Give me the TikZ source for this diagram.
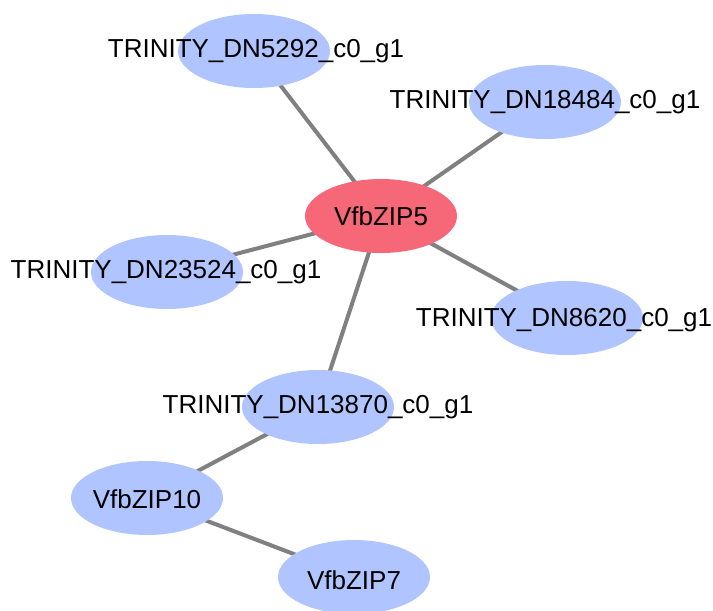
\documentclass[tikz,border=0pt]{standalone}
\usepackage{fontspec}
\setmainfont{Liberation Sans}
\usetikzlibrary{shapes.geometric,backgrounds}
\definecolor{nodeblue}{RGB}{176,196,255}
\definecolor{nodered}{RGB}{246,104,120}
\definecolor{edgegray}{RGB}{128,128,128}
\tikzset{
  gene/.style={ellipse, fill=nodeblue, draw=none, minimum width=152pt, minimum height=74pt, inner sep=0pt},
  hub/.style={gene, fill=nodered},
  lbl/.style={font=\fontsize{26}{30}\selectfont, text=black},
  link/.style={draw=edgegray, line width=4pt}
}
\begin{document}
\begin{tikzpicture}[x=1pt,y=1pt]
\useasboundingbox (0,0) rectangle (713,-611);
\node[gene] (a) at (254,-51) {};
\node[gene] (b) at (545,-102) {};
\node[hub]  (c) at (381,-216) {};
\node[gene] (d) at (167,-272) {};
\node[gene] (e) at (567,-318) {};
\node[gene] (f) at (318,-407) {};
\node[gene] (g) at (147,-498) {};
\node[gene] (h) at (354,-577) {};
\node[lbl] (ta) at (256,-51) {TRINITY\_DN5292\_c0\_g1};
\node[lbl] (tb) at (545,-102) {TRINITY\_DN18484\_c0\_g1};
\node[lbl] (tc) at (381,-216) {VfbZIP5};
\node[lbl] (td) at (166,-272) {TRINITY\_DN23524\_c0\_g1};
\node[lbl] (te) at (564,-320) {TRINITY\_DN8620\_c0\_g1};
\node[lbl] (tf) at (318,-407) {TRINITY\_DN13870\_c0\_g1};
\node[lbl] (tg) at (147,-499) {VfbZIP10};
\node[lbl] (th) at (354,-580) {VfbZIP7};
\begin{scope}[on background layer]
\draw[link] (a.center) -- (c.center);
\draw[link] (b.center) -- (c.center);
\draw[link] (d.center) -- (c.center);
\draw[link] (e.center) -- (c.center);
\draw[link] (f.center) -- (c.center);
\draw[link] (f.center) -- (g.center);
\draw[link] (g.center) -- (h.center);
\end{scope}
\end{tikzpicture}
\end{document}
